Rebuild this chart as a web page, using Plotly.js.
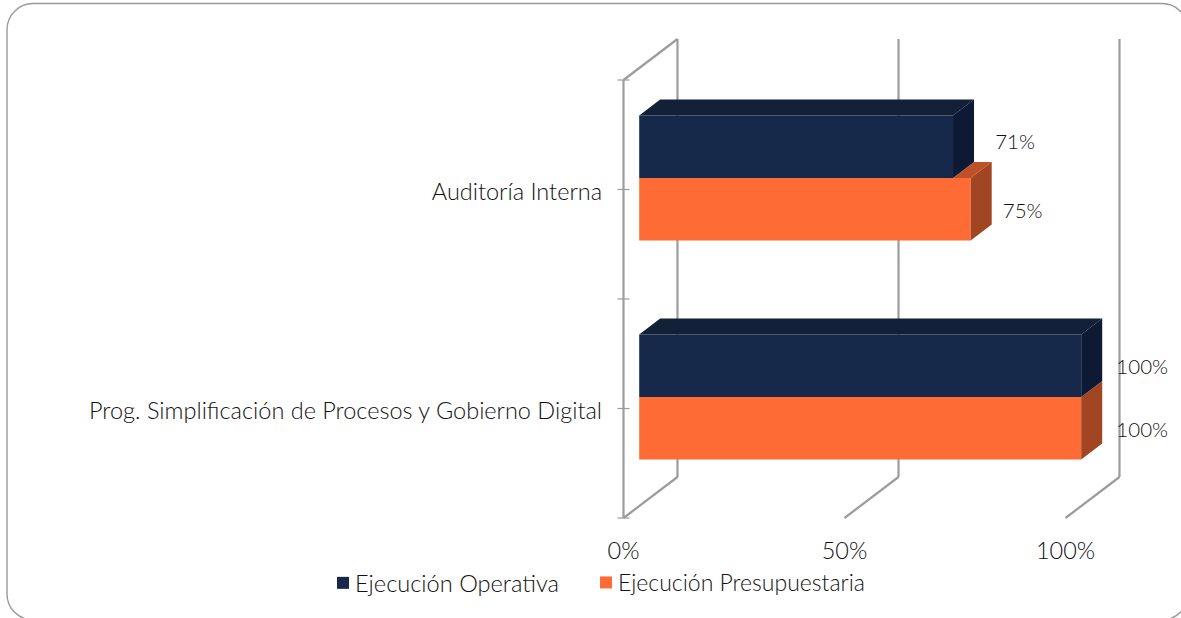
<!DOCTYPE html>
<html>
<head>
<meta charset="utf-8">
<script src="https://cdn.plot.ly/plotly-3.0.1.min.js"></script>
<style>html,body{margin:0;padding:0;background:#fff;overflow:hidden}</style>
</head>
<body>
<div id="chart" style="width:1181px;height:618px"></div>
<script>
// ---- data ----
const categories = ['Prog. Simplificación de Procesos y Gobierno Digital', 'Auditoría Interna'];
const categoryPos = [0.5, 1.5];
const operativa = [100, 71];
const presupuestaria = [100, 75];
const xTicks = [0, 50, 100];
const xTickLabels = ['0%', '50%', '100%'];
const seriesNames = ['Ejecución Operativa', 'Ejecución Presupuestaria'];

// ---- style / projection settings ----
const W = 1181, H = 618;
const L = 623.5, B = 518;         // pixel location of the data origin
const PL = 610, PB = 530;         // pixel edges of the plot area
const PX_X = 4.42, PX_Y = 219;    // pixels per data unit
const dx = p => p / PX_X, dy = p => p / PX_Y;
const navy = '#16294B', orange = '#FF6B35';
const navyTop = '#122038', navySide = '#0E1A33';
const orangeTop = '#BF5029', orangeSide = '#A14522';
const gridC = '#9C9C9C';
const font = 'Lato, "Open Sans", sans-serif', textC = '#111', weight = 300;
const barBase = dx(15.7), barH = dy(62.5), barShift = dy(11.5);
const depthX = dx(21), depthY = dy(16);
const wallX = dx(54), wallY = dy(41);

// ---- projected faces, computed from the values ----
// hiddenTo: how far along the bar the top face sits behind the bar stacked above it
function faces(vals, offsetLow, color, sideColor, hiddenTo) {
  const topX = [], topY = [], sideX = [], sideY = [];
  vals.forEach((v, i) => {
    const y0 = categoryPos[i] + offsetLow, y1 = y0 + barH, xb = barBase + v;
    const xa = barBase + (hiddenTo ? hiddenTo[i] : 0);
    topX.push(xa, xa + depthX, xb + depthX, xb, xa, null);
    topY.push(y1, y1 + depthY, y1 + depthY, y1, y1, null);
    sideX.push(xb, xb + depthX, xb + depthX, xb, xb, null);
    sideY.push(y0, y0 + depthY, y1 + depthY, y1, y0, null);
  });
  const f = (x, y, c) => ({x, y, type:'scatter', mode:'lines', fill:'toself', fillcolor:c,
    line:{width:0, color:c}, hoverinfo:'skip', showlegend:false});
  return [f(topX, topY, color), f(sideX, sideY, sideColor)];
}
const bar = (vals, offset, c, name, legend) => ({type:'bar', orientation:'h', name, x:vals, y:categoryPos,
  base:barBase, width:barH, offset, legend, marker:{color:c, line:{width:0}},
  hovertemplate:'%{x}%<extra>'+name+'</extra>'});

// label nudges in px, per category: right of the bar end, and up from the bar centre
const labelPadX = [[61, 62], [61, 52]];
const labelUpY = [[-3, 3], [-3.5, -3.5]];
const labels = (vals, off, padX, upY) => ({type:'scatter', mode:'text', showlegend:false, hoverinfo:'skip',
  x: vals.map((v, i) => barBase + v + dx(padX[i])), y: categoryPos.map((c, i) => c + off + dy(upY[i])),
  text: vals.map(v => v + '%'), textposition:'middle center',
  textfont:{family:font, size:20.5, color:textC, weight}});

const traces = [
  bar(operativa, barShift, navy, seriesNames[0], 'legend'),
  bar(presupuestaria, barShift - barH, orange, seriesNames[1], 'legend2'),
  ...faces(presupuestaria, barShift - barH, orangeTop, orangeSide, operativa),
  ...faces(operativa, barShift, navyTop, navySide),
  labels(operativa, barShift + barH / 2, labelPadX[0], labelUpY[0]),
  labels(presupuestaria, barShift - barH / 2, labelPadX[1], labelUpY[1])
];

// ---- frame shapes ----
const ln = (x0, y0, x1, y1, w = 2.2) => ({type:'line', layer:'below', xref:'x', yref:'y', x0, y0, x1, y1,
  line:{color:gridC, width:w}});
const shapes = [];
xTicks.forEach(t => {
  shapes.push(ln(t, 0, t + wallX, wallY));
  shapes.push(ln(t + wallX, wallY, t + wallX, 2 + wallY));
});
shapes.push(ln(0, 0, 0, 2));
shapes.push(ln(0, 2, wallX, 2 + wallY));
[0, 0.5, 1, 1.5, 2].forEach(t => shapes.push(ln(-dx(6), t, dx(6), t, 1.2)));

// rounded card border, pixel coordinates mapped to paper space
const pX = x => (x - PL) / (W - PL), pY = y => (PB - y) / PB;
const corner = (x0, y0, cx, cy, x1, y1) => {
  const k = 0.45;
  return `C${pX(x0 + (cx - x0) * (1 - k))},${pY(y0 + (cy - y0) * (1 - k))} ${pX(x1 + (cx - x1) * (1 - k))},${pY(y1 + (cy - y1) * (1 - k))} ${pX(x1)},${pY(y1)}`;
};
const bL = 7, bT = 3.5, bR = 1188, bBot = 620, r = 26;
shapes.push({type:'path', xref:'paper', yref:'paper', layer:'below', line:{color:'#9A9A9A', width:1.4},
  path:`M${pX(bL + r)},${pY(bT)} L${pX(bR - r)},${pY(bT)} ` + corner(bR - r, bT, bR, bT, bR, bT + r) +
    ` L${pX(bR)},${pY(bBot - r)} ` + corner(bR, bBot - r, bR, bBot, bR - r, bBot) +
    ` L${pX(bL + r)},${pY(bBot)} ` + corner(bL + r, bBot, bL, bBot, bL, bBot - r) +
    ` L${pX(bL)},${pY(bT + r)} ` + corner(bL, bT + r, bL, bT, bL + r, bT) + ' Z'});

const legendStyle = (x, size) => ({orientation:'h', x:pX(x), y:pY(561), xanchor:'left', yanchor:'top',
  font:{family:font, size, color:textC, weight}, itemwidth:30, bgcolor:'rgba(0,0,0,0)'});

const layout = {
  width:W, height:H, margin:{l:PL, r:0, t:0, b:H - PB}, paper_bgcolor:'#fff', plot_bgcolor:'rgba(0,0,0,0)',
  font:{family:font, color:textC, size:23.5, weight},
  barmode:'overlay', showlegend:true,
  xaxis:{range:[(PL - L) / PX_X, (W - L) / PX_X], tickvals:xTicks, ticktext:xTickLabels, showgrid:false, zeroline:false, showline:false,
    ticks:'', ticklabelstandoff:4, tickfont:{family:font, size:23.5, color:textC, weight}},
  yaxis:{range:[(B - PB) / PX_Y, B / PX_Y], tickvals:categoryPos, ticktext:categories, showgrid:false, zeroline:false, showline:false,
    ticks:'', ticklabelstandoff:7, ticklabelshift:2, tickfont:{family:font, size:23.5, color:textC, weight}},
  shapes,
  legend:legendStyle(315, 23.6),
  legend2:legendStyle(578, 23)
};
Plotly.newPlot('chart', traces, layout, {displayModeBar:false, responsive:false}).then(() => {
  // bring the legend swatches nearer their text, as in the reference
  document.querySelectorAll('.legendsymbols').forEach(g => g.setAttribute('transform', 'translate(8,0)'));
});
</script>
</body>
</html>
